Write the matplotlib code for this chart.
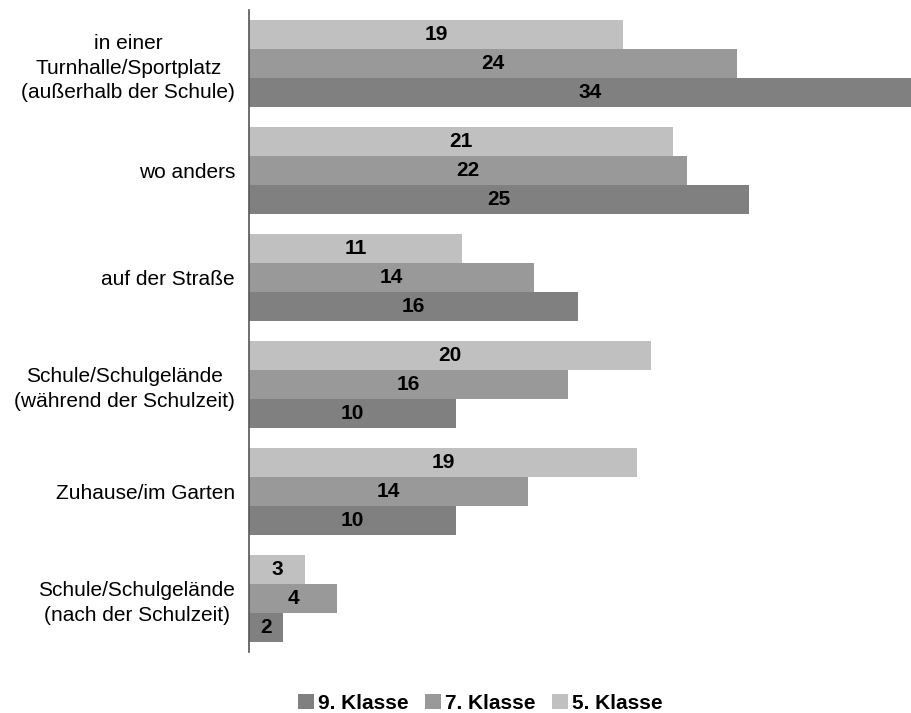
import numpy as np
import matplotlib.pyplot as plt

plt.rcParams['font.family'] = ['Liberation Sans', 'DejaVu Sans']

categories = [
    "in einer\nTurnhalle/Sportplatz\n(außerhalb der Schule)",
    "wo anders",
    "auf der Straße",
    "Schule/Schulgelände\n(während der Schulzeit)",
    "Zuhause/im Garten",
    "Schule/Schulgelände\n(nach der Schulzeit)",
]
klasse5 = [18.6, 21.1, 10.6, 20.0, 19.3, 2.8]
klasse7 = [24.3, 21.8, 14.2, 15.9, 13.9, 4.4]
klasse9 = [34.0, 24.9, 16.4, 10.3, 10.3, 1.7]

series = [
    ("9. Klasse", klasse9, "#808080"),
    ("7. Klasse", klasse7, "#999999"),
    ("5. Klasse", klasse5, "#c0c0c0"),
]

fig = plt.figure(figsize=(9.12, 7.13), dpi=100)
ax = fig.add_axes([0.273, 0.0856, 0.727, 0.9004])

y = np.arange(len(categories))
h = 0.27
offsets = {"5. Klasse": -h, "7. Klasse": 0.0, "9. Klasse": h}

for name, vals, col in series:
    pos = y + offsets[name]
    ax.barh(pos, vals, height=h, color=col, label=name, edgecolor="none")
    for p, v in zip(pos, vals):
        ax.text(v / 2, p, f"{round(v)}", ha="center", va="center",
                fontsize=15, fontweight="bold", color="black")

ax.set_xlim(0, 33.0)
ax.set_ylim(len(categories) - 0.5, -0.5)
ax.set_yticks(y)
ax.set_yticklabels(categories, fontsize=15, multialignment="center",
                   linespacing=1.35)
ax.tick_params(axis="y", length=0, pad=10)
ax.set_xticks([])
for s in ["top", "right", "bottom"]:
    ax.spines[s].set_visible(False)
ax.spines["left"].set_color("#555555")
ax.spines["left"].set_linewidth(1.2)

fig.legend(loc="center", bbox_to_anchor=(0.527, 0.014), ncol=3, frameon=False,
           prop={"size": 15, "weight": "bold"}, handlelength=0.75,
           handleheight=0.75, handletextpad=0.2, columnspacing=0.8)

fig.savefig("out.png", dpi=100)
